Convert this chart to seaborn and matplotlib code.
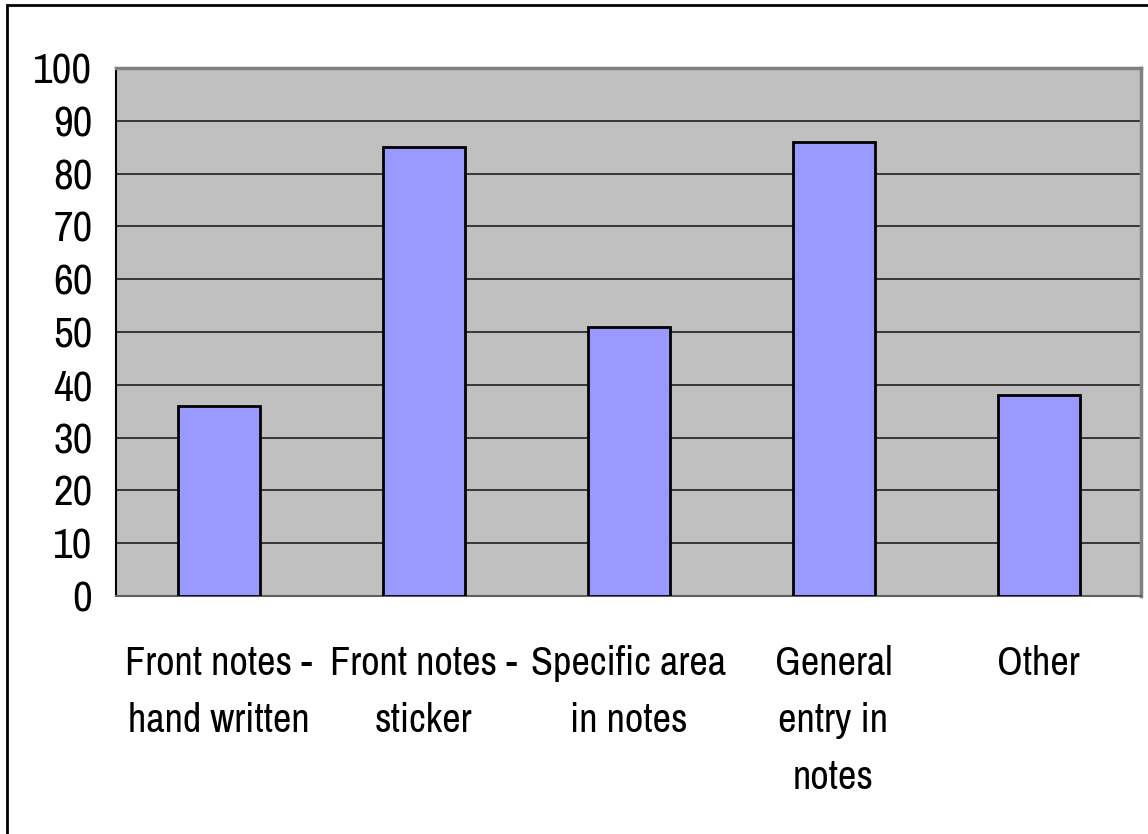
import matplotlib
matplotlib.use("Agg")
import matplotlib.pyplot as plt
import matplotlib.patches as patches
from matplotlib import font_manager
import pandas as pd
import seaborn as sns

categories = ["Front notes -\nhand written", "Front notes -\nsticker", "Specific area\nin notes",
              "General\nentry in\nnotes", "Other"]
values = [36, 85, 51, 86, 38]
y_ticks = list(range(0, 101, 10))

# look for a narrow face (the original uses Arial Narrow-like type)
names = sorted({f.name for f in font_manager.fontManager.ttflist})
if "Liberation Sans Narrow" in names:
    narrow = ["Liberation Sans Narrow"]
else:
    narrow = [n for n in names if "Narrow" in n or "Condensed" in n]

sns.set_style("white")
if narrow:
    family = [narrow[0], "Liberation Sans", "DejaVu Sans"]
    xsize, ysize = 29, 31
else:
    family = ["Liberation Sans", "DejaVu Sans"]
    xsize, ysize = 25, 26
plt.rcParams["font.family"] = family
plt.rcParams["text.color"] = "black"
plt.rcParams["xtick.color"] = "black"
plt.rcParams["ytick.color"] = "black"

df = pd.DataFrame({"category": categories, "value": values})

fig = plt.figure(figsize=(11.48, 8.34), dpi=100)
ax = fig.add_axes([116 / 1148, 1 - 596 / 834, 1025 / 1148, 528 / 834])
ax.set_facecolor("#C0C0C0")

sns.barplot(data=df, x="category", y="value", color="#9999FF", width=0.4,
            edgecolor="black", linewidth=2, saturation=1, ax=ax, zorder=3)

ax.set_xlim(-0.5, len(categories) - 0.5)
ax.set_ylim(0, 100)
ax.set_yticks(y_ticks)
ax.yaxis.grid(True, color="#202020", linewidth=1.2, zorder=1)
ax.set_axisbelow(True)
ax.set_xlabel("")
ax.set_ylabel("")

# category boundaries as tick marks, labels at centres
ax.set_xticks([i - 0.5 for i in range(len(categories) + 1)], minor=True)
ax.tick_params(axis="x", which="minor", length=14, width=1.2, color="black", direction="out")
ax.tick_params(axis="x", which="major", length=0, pad=35, labelsize=xsize, labelcolor="black")
ax.tick_params(axis="y", length=11, width=1.2, color="black", direction="out",
               labelsize=ysize, pad=6, labelcolor="black")
for lbl in ax.get_xticklabels():
    lbl.set_linespacing(1.68)
    lbl.set_verticalalignment("top")

for side in ["top", "right"]:
    ax.spines[side].set_color("#808080")
    ax.spines[side].set_linewidth(2.5)
ax.spines["bottom"].set_color("#606060")
ax.spines["bottom"].set_linewidth(1.5)
ax.spines["left"].set_color("black")
ax.spines["left"].set_linewidth(1.5)

# outer chart frame
frame = patches.Rectangle((7 / 1148, -0.1), 1.2, 1 - 5 / 834 + 0.1, transform=fig.transFigure,
                          fill=False, edgecolor="black", linewidth=2, zorder=10)
fig.patches.append(frame)

fig.savefig("out.png", dpi=100, facecolor="white")
